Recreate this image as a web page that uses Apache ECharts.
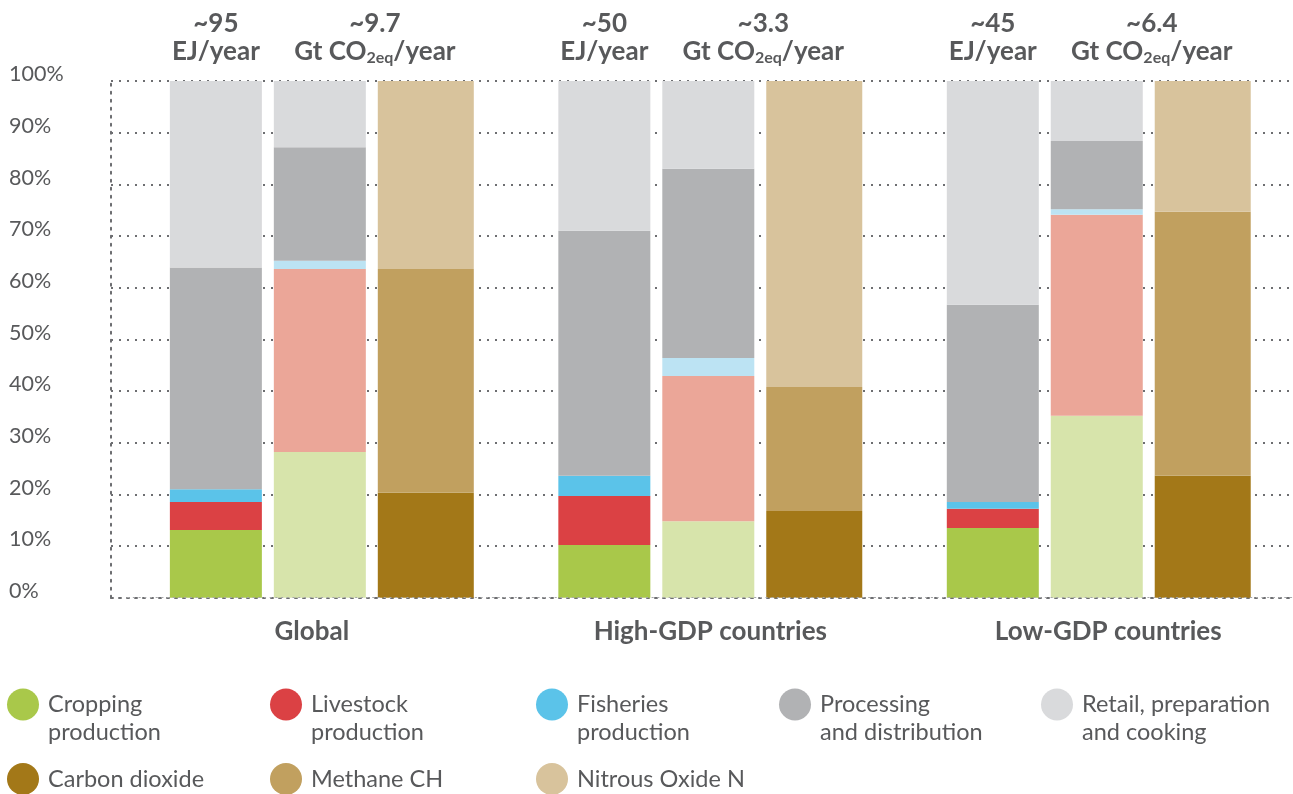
<!DOCTYPE html>
<html><head><meta charset="utf-8">
<script src="https://cdn.jsdelivr.net/npm/echarts@6/dist/echarts.min.js"></script>
<style>html,body{margin:0;padding:0;background:#fff}#c{width:1293px;height:794px}</style>
</head><body><div id="c"></div>
<script>
// ---- data ----
const categories = ['Global', 'High-GDP countries', 'Low-GDP countries'];
const energyTotals = ['~95', '~50', '~45'];
const emissionTotals = ['~9.7', '~3.3', '~6.4'];
const yTickValues = [0, 10, 20, 30, 40, 50, 60, 70, 80, 90, 100];

// share of food-system energy use by stage (%)
const energyCropping   = [13.1, 10.2, 13.5];
const energyLivestock  = [5.4, 9.5, 3.7];
const energyFisheries  = [2.5, 3.9, 1.3];
const energyProcessing = [42.9, 47.4, 38.2];
const energyRetail     = [36.1, 29.0, 43.3];

// share of emissions by stage (%)
const emisCropping   = [28.2, 14.8, 35.2];
const emisLivestock  = [35.4, 28.1, 38.9];
const emisFisheries  = [1.6, 3.5, 1.1];
const emisProcessing = [22.0, 36.6, 13.2];
const emisRetail     = [12.8, 17.0, 11.6];

// share of emissions by gas (%)
const gasCO2 = [20.3, 16.8, 23.6];
const gasCH4 = [43.3, 24.0, 51.1];
const gasN2O = [36.4, 59.2, 25.3];

const stageNames = ['Cropping production', 'Livestock production', 'Fisheries production', 'Processing and distribution', 'Retail, preparation and cooking'];
const gasNames = ['Carbon dioxide', 'Methane CH', 'Nitrous Oxide N'];
const legendLabels = {
  'Cropping production': ' \nCropping\nproduction',
  'Livestock production': ' \nLivestock\nproduction',
  'Fisheries production': ' \nFisheries\nproduction',
  'Processing and distribution': ' \nProcessing\nand distribution',
  'Retail, preparation and cooking': ' \nRetail, preparation\nand cooking',
  'Carbon dioxide': 'Carbon dioxide',
  'Methane CH': 'Methane CH',
  'Nitrous Oxide N': 'Nitrous Oxide N'
};

// ---- style ----
const TXT = '#58595b';
const FONT = 'Lato';
const stageDark  = ['#a9c84a', '#db4144', '#5bc3e9', '#b1b2b4', '#d9dadc'];
const stageLight = ['#d7e4ab', '#eba698', '#bce3f3', '#b1b2b4', '#d9dadc'];
const gasColors  = ['#a37818', '#c1a05f', '#d8c39c'];

const energyData = [energyCropping, energyLivestock, energyFisheries, energyProcessing, energyRetail];
const emisData = [emisCropping, emisLivestock, emisFisheries, emisProcessing, emisRetail];
const gasData = [gasCO2, gasCH4, gasN2O];

const headRich = {
  b: { fontFamily: FONT, fontSize: 26, fontWeight: 'bold', color: TXT, lineHeight: 28 },
  s: { fontFamily: FONT, fontSize: 16, fontWeight: 'bold', color: TXT, verticalAlign: 'bottom', lineHeight: 28 }
};

const series = [];
function barBase(name, stack, width, color, data) {
  return {
    type: 'bar', name, stack, xAxisIndex: 1, yAxisIndex: 1,
    barWidth: width, barGap: '13%',
    itemStyle: { color }, data,
    emphasis: { disabled: true }
  };
}
energyData.forEach((d, i) => {
  const s = barBase(stageNames[i], 'energy', 92, stageDark[i], d);
  if (i === energyData.length - 1) {
    s.label = {
      show: true, position: 'top', distance: 15, rich: headRich,
      formatter: p => '{b|' + energyTotals[p.dataIndex] + '}\n{b|EJ/year}'
    };
  }
  series.push(s);
});
emisData.forEach((d, i) => {
  const s = barBase(stageNames[i], 'stage', 92, stageLight[i], d);
  if (i === emisData.length - 1) {
    s.label = {
      show: true, position: 'top', distance: 15, offset: [55, 0], rich: headRich,
      formatter: p => '{b|' + emissionTotals[p.dataIndex] + '}\n{b|Gt CO}{s|2eq}{b|/year}'
    };
  }
  series.push(s);
});
gasData.forEach((d, i) => {
  series.push(barBase(gasNames[i], 'gas', 96, gasColors[i], d));
});

const legendRow1X = [7, 270, 536, 779, 1041];
const legendRow2X = [7, 270, 536];
const legendText = { fontFamily: FONT, fontSize: 23.5, color: TXT, lineHeight: 27.7, padding: [0, 0, 0, 4] };
const legends = [];
stageNames.forEach((n, i) => legends.push({
  data: [n], left: legendRow1X[i], top: 663, padding: 0,
  icon: 'circle', itemWidth: 32, itemHeight: 32,
  formatter: nm => legendLabels[nm], textStyle: legendText
}));
gasNames.forEach((n, i) => legends.push({
  data: [n], left: legendRow2X[i], top: 763, padding: 0,
  icon: 'circle', itemWidth: 32, itemHeight: 32,
  formatter: nm => legendLabels[nm], textStyle: legendText
}));

const dotted = { color: '#6d6e71', width: 2, type: [2, 6] };
const catLabel = { fontFamily: FONT, fontSize: 26, fontWeight: 'bold', color: TXT };

const option = {
  animation: false,
  backgroundColor: '#fff',
  textStyle: { fontFamily: FONT },
  legend: legends,
  grid: [
    { left: 111, right: 1, top: 81, bottom: 196.3 },
    { left: 127.6, width: 1172.25, top: 81, bottom: 196.3 }
  ],
  xAxis: [
    { gridIndex: 0, type: 'value', min: 0, max: 1,
      axisLine: { show: true, lineStyle: dotted }, axisTick: { show: false },
      axisLabel: { show: false }, splitLine: { show: false } },
    { gridIndex: 1, type: 'category', data: categories, z: 3,
      axisLine: { show: true, lineStyle: { color: '#a7a8aa', width: 1.2, type: [1.2, 4.5] } },
      axisTick: { show: false },
      axisLabel: { margin: 21, formatter: (v, i) => '{c' + i + '|' + v + '}',
        rich: {
          c0: Object.assign({ padding: [0, 20, 0, 0] }, catLabel),
          c1: Object.assign({ padding: [0, 0, 0, 0] }, catLabel),
          c2: Object.assign({ padding: [0, 0, 0, 19] }, catLabel)
        } } }
  ],
  yAxis: [
    { gridIndex: 0, type: 'value', min: 0, max: 100, interval: 10,
      axisLine: { show: true, lineStyle: dotted }, axisTick: { show: false },
      splitLine: { show: true, lineStyle: dotted },
      axisLabel: { align: 'left', margin: 102, verticalAlign: 'bottom', lineHeight: 13,
        fontFamily: FONT, fontSize: 21.5, color: TXT,
        customValues: yTickValues, formatter: v => v + '%' } },
    { gridIndex: 1, type: 'value', min: 0, max: 100, show: false, splitLine: { show: false } }
  ],
  series
};

const chart = echarts.init(document.getElementById('c'), null, { renderer: 'canvas' });
chart.setOption(option);
</script>
</body></html>
